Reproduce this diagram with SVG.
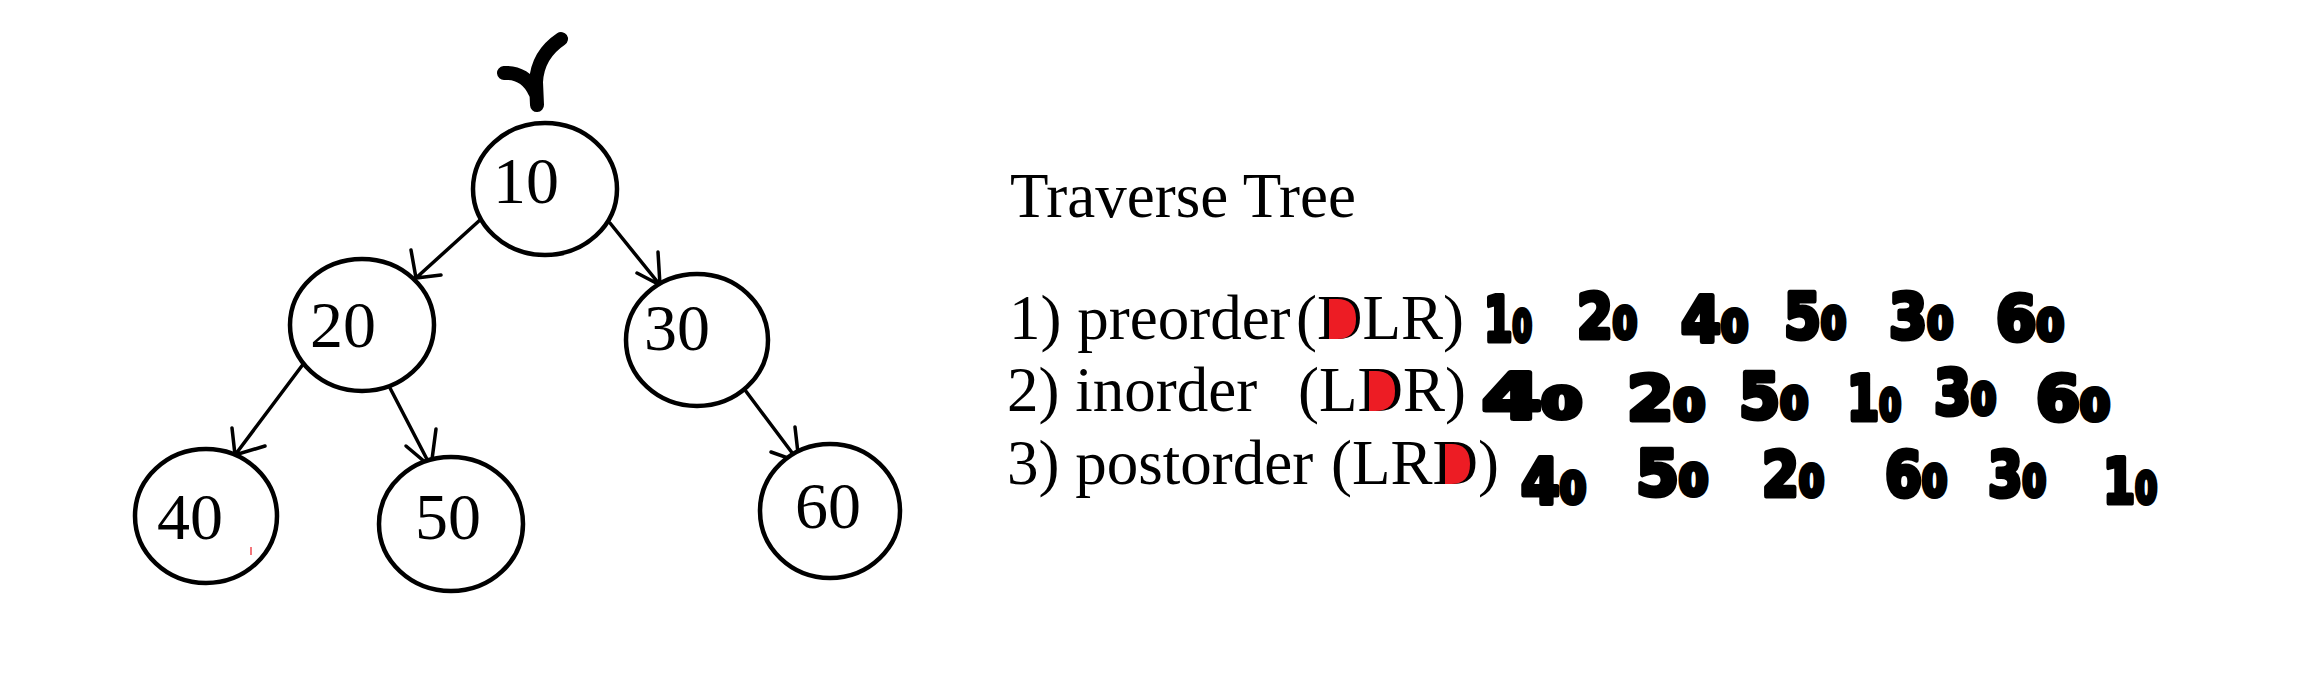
<svg xmlns="http://www.w3.org/2000/svg" width="2303" height="680" viewBox="0 0 2303 680">
<style>
.node{fill:#fff;stroke:#000;stroke-width:4.5}
.nt{font-family:"Liberation Serif","Times New Roman",serif;font-size:66px;fill:#000}
.edge{stroke:#000;stroke-width:3.5;fill:none;stroke-linecap:round}
.tx{font-family:"Liberation Serif","Times New Roman",serif;font-size:63px;fill:#000}
.hw{font-family:"DejaVu Sans",sans-serif;font-weight:bold;font-size:62px;fill:#000;stroke:#000;stroke-width:5;stroke-linejoin:round}
.o{font-size:42px}
.red{fill:#ed1c24}
</style>
<rect width="2303" height="680" fill="#fff"/>
<g id="root-mark" fill="none" stroke="#000" stroke-width="14" stroke-linecap="round">
<path d="M561 39 C546 49 537 63 536 82 L537 105"/>
<path d="M504 73 C518 72 529 79 535 92"/>
</g>
<g id="connectors" class="edge">
<path d="M480 220 L416 278 M411 250 L416 278 L441 275"/>
<path d="M610 223 L660 285 M658 252 L660 285 L637 273"/>
<path d="M304 363 L235 455 M232 428 L235 455 L265 446"/>
<path d="M390 388 L431 467 M436 429 L431 467 L406 446"/>
<path d="M745 390 L799 462 M795 427 L799 462 L771 452"/>
</g>
<g id="n10"><ellipse class="node" cx="545" cy="189" rx="72" ry="66"/><text class="nt" x="493" y="203">10</text></g>
<g id="n20"><ellipse class="node" cx="362" cy="325" rx="72" ry="66"/><text class="nt" x="310" y="347">20</text></g>
<g id="n30"><ellipse class="node" cx="697" cy="340" rx="71" ry="66"/><text class="nt" x="644" y="350">30</text></g>
<g id="n40"><ellipse class="node" cx="206" cy="516" rx="71" ry="67"/><text class="nt" x="157" y="539">40</text><path d="M251 547 L251 555" stroke="#ed1c24" stroke-width="1.2"/></g>
<g id="n50"><ellipse class="node" cx="451" cy="524" rx="72" ry="67"/><text class="nt" x="415" y="539">50</text></g>
<g id="n60"><ellipse class="node" cx="830" cy="511" rx="70" ry="67"/><text class="nt" x="795" y="528">60</text></g>
<g id="traverse">
<text class="tx" x="1010" y="217">Traverse Tree</text>
<text class="tx" x="1009" y="339">1) preorder</text>
<text class="tx" x="1296" y="339">(DLR)</text>
<text class="tx" x="1007" y="411">2) inorder</text>
<text class="tx" x="1298" y="411">(LDR)</text>
<text class="tx" x="1007" y="484">3) postorder</text>
<text class="tx" x="1331" y="484">(LRD)</text>
<path class="red" d="M1329 299 L1337 299 Q1356 299 1356 319 Q1356 339 1337 339 L1329 339 Z"/>
<path class="red" d="M1369 371 L1375 371 Q1395 371 1395 391 Q1395 411 1375 411 L1369 411 Z"/>
<path class="red" d="M1445 444 L1451 444 Q1470 444 1470 464 Q1470 484 1451 484 L1445 484 Z"/>
</g>
<g id="sequences">
<text class="hw" x="1484" y="341" textLength="48" lengthAdjust="spacingAndGlyphs">1<tspan class="o">0</tspan></text>
<text class="hw" x="1577" y="338" textLength="60" lengthAdjust="spacingAndGlyphs">2<tspan class="o">0</tspan></text>
<text class="hw" x="1681" y="341" textLength="67" lengthAdjust="spacingAndGlyphs">4<tspan class="o">0</tspan></text>
<text class="hw" x="1784" y="338" textLength="62" lengthAdjust="spacingAndGlyphs">5<tspan class="o">0</tspan></text>
<text class="hw" x="1889" y="338" textLength="64" lengthAdjust="spacingAndGlyphs">3<tspan class="o">0</tspan></text>
<text class="hw" x="1996" y="340" textLength="68" lengthAdjust="spacingAndGlyphs">6<tspan class="o">0</tspan></text>
<text class="hw" x="1482" y="418" textLength="100" lengthAdjust="spacingAndGlyphs">4<tspan class="o">0</tspan></text>
<text class="hw" x="1627" y="420" textLength="78" lengthAdjust="spacingAndGlyphs">2<tspan class="o">0</tspan></text>
<text class="hw" x="1739" y="418" textLength="69" lengthAdjust="spacingAndGlyphs">5<tspan class="o">0</tspan></text>
<text class="hw" x="1847" y="420" textLength="54" lengthAdjust="spacingAndGlyphs">1<tspan class="o">0</tspan></text>
<text class="hw" x="1934" y="414" textLength="62" lengthAdjust="spacingAndGlyphs">3<tspan class="o">0</tspan></text>
<text class="hw" x="2036" y="420" textLength="74" lengthAdjust="spacingAndGlyphs">6<tspan class="o">0</tspan></text>
<text class="hw" x="1521" y="503" textLength="65" lengthAdjust="spacingAndGlyphs">4<tspan class="o">0</tspan></text>
<text class="hw" x="1636" y="495" textLength="72" lengthAdjust="spacingAndGlyphs">5<tspan class="o">0</tspan></text>
<text class="hw" x="1762" y="496" textLength="62" lengthAdjust="spacingAndGlyphs">2<tspan class="o">0</tspan></text>
<text class="hw" x="1885" y="496" textLength="62" lengthAdjust="spacingAndGlyphs">6<tspan class="o">0</tspan></text>
<text class="hw" x="1988" y="496" textLength="58" lengthAdjust="spacingAndGlyphs">3<tspan class="o">0</tspan></text>
<text class="hw" x="2103" y="503" textLength="54" lengthAdjust="spacingAndGlyphs">1<tspan class="o">0</tspan></text>
</g>
</svg>
